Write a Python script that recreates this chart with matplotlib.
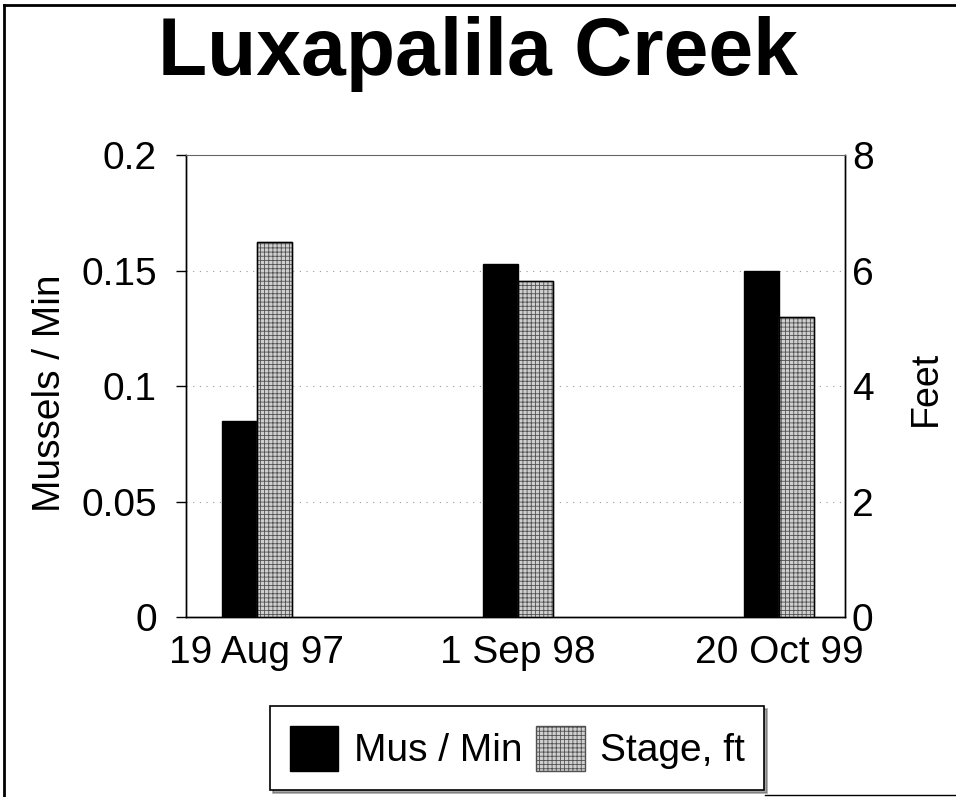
import matplotlib
matplotlib.use("Agg")
import matplotlib.pyplot as plt
from matplotlib.lines import Line2D
import numpy as np

plt.rcParams['font.family'] = ['Liberation Sans', 'DejaVu Sans']
plt.rcParams['hatch.linewidth'] = 0.6

title = "Luxapalila Creek"
categories = ["19 Aug 97", "1 Sep 98", "20 Oct 99"]
mus_per_min = [0.085, 0.153, 0.150]
stage_ft = [6.5, 5.82, 5.2]
left_ticks = [0, 0.05, 0.1, 0.15, 0.2]
left_tick_labels = ["0", "0.05", "0.1", "0.15", "0.2"]
right_ticks = [0, 2, 4, 6, 8]

FS = 28

fig = plt.figure(figsize=(9.56, 7.97), dpi=100)
ax = fig.add_axes([0.1946, 0.2258, 0.8839 - 0.1946, 0.8055 - 0.2258])
ax2 = ax.twinx()

x = np.arange(len(categories))
w = 0.134
b1 = ax.bar(x - w / 2, mus_per_min, w, color="black", edgecolor="black", linewidth=1,
            label="Mus / Min", zorder=3)
b2 = ax2.bar(x + w / 2, stage_ft, w, color="#cfcfcf", edgecolor="#505050", hatch="++++",
             linewidth=1, label="Stage, ft", zorder=3)
ax2.bar(x + w / 2, stage_ft, w, fill=False, edgecolor="black", linewidth=1, zorder=4)

ax.set_xlim(-0.27, 2.253)
ax.set_ylim(0, 0.2)
ax2.set_ylim(0, 8)
ax.set_yticks(left_ticks)
ax.set_yticklabels(left_tick_labels)
ax2.set_yticks(right_ticks)
ax.set_xticks(x)
ax.set_xticklabels(categories)

ax.tick_params(axis='y', labelsize=FS, length=7, width=1, direction='out', pad=14)
ax.tick_params(axis='x', labelsize=FS, length=0, pad=13)
ax2.tick_params(axis='y', labelsize=FS, length=0, pad=5)

for a in (ax, ax2):
    for s in a.spines.values():
        s.set_linewidth(1)
ax2.spines['top'].set_color('#666666')
ax2.spines['top'].set_linewidth(0.8)
ax.spines['top'].set_visible(False)

for yv in [0.05, 0.1, 0.15]:
    ax.axhline(yv, linestyle=(0, (1, 5)), color='#999999', linewidth=0.8, zorder=0)

ax.set_ylabel("Mussels / Min", fontsize=FS, va='center', rotation_mode='anchor')
ax.yaxis.set_label_coords(-0.206, 0.485)
ax2.set_ylabel("Feet", fontsize=FS - 1, va='center', rotation=90, rotation_mode='anchor')
ax2.yaxis.set_label_coords(1.123, 0.496)

fig.text(0.5, 0.932, title, ha='center', va='center', fontsize=58, fontweight='bold')

leg = fig.legend([b1, b2], ["Mus / Min", "Stage, ft"], loc='center', bbox_to_anchor=(0.541, 0.061),
                 ncol=2, fontsize=FS, frameon=True, fancybox=False, shadow=True,
                 handlelength=1.25, handleheight=1.4, handletextpad=0.39, columnspacing=0.36,
                 borderpad=0.5, borderaxespad=0, edgecolor='black')
leg.get_frame().set_linewidth(1.2)

# figure border (left, top, bottom-right fragment as in the scan)
fig.lines.append(Line2D([0.004, 0.004], [0.0, 0.994], transform=fig.transFigure, color='black', lw=2))
fig.lines.append(Line2D([0.004, 1.0], [0.994, 0.994], transform=fig.transFigure, color='black', lw=2))
fig.lines.append(Line2D([0.8, 1.0], [0.003, 0.003], transform=fig.transFigure, color='black', lw=1))

fig.savefig("out.png", dpi=100)
